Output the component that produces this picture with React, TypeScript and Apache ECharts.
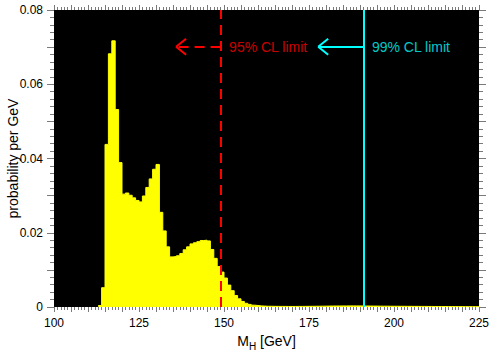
import React, { useEffect, useRef } from "react";
import * as echarts from "echarts";

const FONT = "'Liberation Sans', Arial, Helvetica, sans-serif";

// histogram: 1 GeV bins, first bin starts at BIN_START
const BIN_START = 113;
const binValues = [
  0.0004, 0.0052, 0.0438, 0.0682, 0.0717, 0.0532, 0.0389, 0.0304, 0.0307, 0.0301,
  0.0294, 0.0287, 0.0283, 0.0299, 0.0322, 0.0345, 0.0371, 0.0384, 0.0255, 0.0205,
  0.0162, 0.0135, 0.0136, 0.0138, 0.0144, 0.0154, 0.0162, 0.017, 0.0173, 0.0176,
  0.0179, 0.018, 0.0178, 0.0155, 0.0131, 0.0109, 0.0094, 0.0078, 0.0059, 0.0044,
  0.0031, 0.0022, 0.0015, 0.001, 0.0007, 0.0005, 0.0004, 0.0003,
  // 161..179
  0.00025, 0.0002, 0.0002, 0.00018, 0.00017, 0.00016, 0.00016, 0.00015, 0.00015, 0.00015,
  0.00016, 0.00016, 0.00017, 0.00018, 0.00019, 0.0002, 0.00021, 0.00022, 0.00023,
  // 180..192
  0.00025, 0.00026, 0.00027, 0.00028, 0.00028, 0.00029, 0.0003, 0.0003, 0.0003, 0.00029,
  0.00028, 0.00027, 0.00026,
  // 193..224
  0.00025, 0.00024, 0.00023, 0.00022, 0.00022, 0.00021, 0.0002, 0.0002, 0.00019, 0.00019,
  0.00018, 0.00018, 0.00017, 0.00017, 0.00016, 0.00016, 0.00015, 0.00015, 0.00014, 0.00014,
  0.00013, 0.00013, 0.00012, 0.00012, 0.00011, 0.00011, 0.0001, 0.0001, 0.0001, 0.00009,
  0.00009, 0.00008,
];

const xRange = [100, 225];
const yRange = [0, 0.08];
const xLabelTicks = [100, 125, 150, 175, 200, 225];
const yLabelTicks = [0, 0.02, 0.04, 0.06, 0.08];

const limit95 = 149;
const limit99 = 191;
const annotY = 0.0701;
const arrow95Tip = 135.9;
const arrow99Tip = 177.7;
const headDx = 2.94;
const headDy = 0.00216;
const labels = ["95% CL limit", "99% CL limit"];

const RED = "#ff0000";
const CYAN = "#00ffff";
const TICK = "#7a7a7a";

export default function App() {
  const ref = useRef<HTMLDivElement>(null);
  useEffect(() => {
    document.body.style.margin = "0";
    const chart = echarts.init(ref.current!, undefined, { renderer: "svg" });

    const pts: number[][] = binValues.map((v, i) => [BIN_START + i, v]);
    pts.push([BIN_START + binValues.length, binValues[binValues.length - 1]]);

    const isLabelX = (v: number) => xLabelTicks.some((t) => Math.abs(t - v) < 1e-6);
    const isLabelY = (v: number) => yLabelTicks.some((t) => Math.abs(t - v) < 1e-9);

    const xCommon = {
      type: "value" as const,
      min: xRange[0],
      max: xRange[1],
      interval: 5,
      axisLine: { show: false, onZero: false },
      splitLine: { show: false },
      axisTick: { show: true, length: 5, lineStyle: { color: TICK, width: 1 } },
      minorTick: { show: true, splitNumber: 5, length: 3, lineStyle: { color: TICK, width: 1 } },
    };
    const yCommon = {
      type: "value" as const,
      min: yRange[0],
      max: yRange[1],
      interval: 0.01,
      axisLine: { show: false, onZero: false },
      splitLine: { show: false },
      axisTick: { show: true, length: 7, lineStyle: { color: TICK, width: 1 } },
      minorTick: { show: true, splitNumber: 5, length: 4, lineStyle: { color: TICK, width: 1 } },
    };

    const head = (tip: number) => [
      [{ coord: [tip, annotY] }, { coord: [tip + headDx, annotY + headDy] }],
      [{ coord: [tip, annotY] }, { coord: [tip + headDx, annotY - headDy] }],
    ];

    chart.setOption({
      animation: false,
      grid: {
        left: 54,
        right: 11,
        top: 10,
        bottom: 44,
        show: true,
        backgroundColor: "#000",
        borderWidth: 0,
        containLabel: false,
        outerBoundsMode: "none",
      },
      xAxis: [
        {
          ...xCommon,
          position: "bottom",
          axisLabel: {
            formatter: (v: number) => (isLabelX(v) ? String(v) : ""),
            margin: 10,
            fontSize: 12,
            color: "#000",
            fontFamily: FONT,
            showMinLabel: true,
            showMaxLabel: true,
          },
          name: "{m|M}{s|H}{m| [GeV]}",
          nameLocation: "middle",
          nameGap: 19,
          nameTextStyle: {
            color: "#000",
            fontFamily: FONT,
            fontSize: 14,
            rich: {
              m: { fontSize: 14, lineHeight: 22, verticalAlign: "middle", fontFamily: FONT, color: "#000" },
              s: { fontSize: 10, lineHeight: 10, verticalAlign: "bottom", fontFamily: FONT, color: "#000" },
            },
          },
        },
        { ...xCommon, position: "top", axisLabel: { show: false } },
      ],
      yAxis: [
        {
          ...yCommon,
          position: "left",
          axisLabel: {
            formatter: (v: number) => (isLabelY(v) ? (Math.abs(v) < 1e-9 ? "0" : v.toFixed(2)) : ""),
            margin: 11,
            fontSize: 12,
            color: "#000",
            fontFamily: FONT,
            showMinLabel: true,
            showMaxLabel: true,
          },
          name: "probability per GeV",
          nameLocation: "middle",
          nameGap: 41,
          nameMoveOverlap: false,
          nameTextStyle: { color: "#000", fontFamily: FONT, fontSize: 14, verticalAlign: "middle" },
        },
        { ...yCommon, position: "right", axisLabel: { show: false } },
      ],
      series: [
        {
          type: "line",
          data: pts,
          step: "end",
          showSymbol: false,
          silent: true,
          lineStyle: { color: "#ffff00", width: 1 },
          itemStyle: { color: "#ffff00" },
          areaStyle: { color: "#ffff00", opacity: 1 },
          z: 2,
        },
        {
          type: "line",
          data: [],
          silent: true,
          z: 5,
          markLine: {
            silent: true,
            symbol: ["none", "none"],
            label: { show: false },
            animation: false,
            data: [
              { xAxis: limit95, lineStyle: { color: RED, width: 2, type: [10, 6] } },
              { xAxis: limit99, lineStyle: { color: CYAN, width: 2, type: "solid" } },
              [
                { coord: [limit95, annotY], lineStyle: { color: RED, width: 2, type: [10, 6] } },
                { coord: [arrow95Tip, annotY] },
              ],
              ...head(arrow95Tip).map((seg) => [
                { ...seg[0], lineStyle: { color: RED, width: 2, type: "solid" } },
                seg[1],
              ]),
              [
                { coord: [limit99, annotY], lineStyle: { color: CYAN, width: 2, type: "solid" } },
                { coord: [arrow99Tip, annotY] },
              ],
              ...head(arrow99Tip).map((seg) => [
                { ...seg[0], lineStyle: { color: CYAN, width: 2, type: "solid" } },
                seg[1],
              ]),
            ],
          },
        },
        {
          type: "scatter",
          silent: true,
          symbolSize: 1,
          itemStyle: { color: "rgba(0,0,0,0)" },
          z: 6,
          data: [
            { value: [limit95, annotY], label: { color: RED, formatter: labels[0] } },
            { value: [limit99, annotY], label: { color: CYAN, formatter: labels[1] } },
          ],
          label: {
            show: true,
            position: "right",
            distance: 8,
            fontSize: 14,
            fontFamily: FONT,
          },
        },
      ],
    });
    return () => chart.dispose();
  }, []);
  return <div ref={ref} style={{ width: 490, height: 351 }} />;
}
